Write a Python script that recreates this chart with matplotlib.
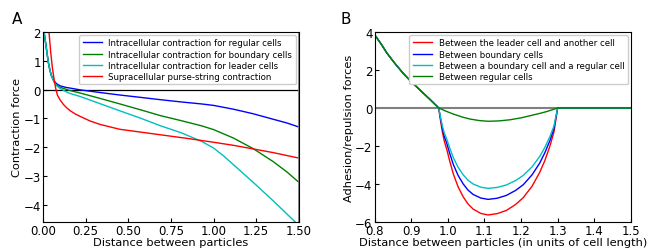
import numpy as np
import matplotlib
matplotlib.use('Agg')
import matplotlib.pyplot as plt

#==== Panel A data : contraction force vs distance ====
reg_x = [0.006, 0.012, 0.018, 0.025, 0.031, 0.04, 0.05, 0.065, 0.08, 0.1, 0.13, 0.16, 0.217,
         0.33, 0.451, 0.57, 0.685, 0.81, 0.93, 1.0, 1.115, 1.232, 1.349, 1.43, 1.5]
reg_y = [2.0, 1.75, 1.5, 1.2, 0.95, 0.68, 0.47, 0.30, 0.20, 0.13, 0.08, 0.05, -0.01,
         -0.10, -0.19, -0.27, -0.35, -0.43, -0.50, -0.55, -0.68, -0.84, -1.03, -1.16, -1.30]
bnd_x = [0.006, 0.012, 0.018, 0.025, 0.031, 0.04, 0.05, 0.065, 0.08, 0.1, 0.15, 0.217,
         0.33, 0.451, 0.57, 0.685, 0.81, 0.93, 1.0, 1.115, 1.232, 1.349, 1.43, 1.5]
bnd_y = [2.0, 1.75, 1.5, 1.2, 0.95, 0.68, 0.47, 0.27, 0.15, 0.08, -0.02, -0.12,
         -0.30, -0.50, -0.70, -0.90, -1.08, -1.26, -1.39, -1.68, -2.05, -2.50, -2.86, -3.22]
lead_x = [0.006, 0.012, 0.018, 0.025, 0.031, 0.04, 0.05, 0.065, 0.08, 0.1, 0.15, 0.217,
          0.33, 0.451, 0.57, 0.685, 0.81, 0.93, 1.0, 1.06, 1.115, 1.232, 1.349, 1.43, 1.5]
lead_y = [2.0, 1.75, 1.5, 1.2, 0.95, 0.68, 0.47, 0.26, 0.13, 0.04, -0.12, -0.24,
          -0.48, -0.74, -0.99, -1.25, -1.50, -1.80, -2.03, -2.31, -2.60, -3.22, -3.86, -4.32, -4.72]
purse_x = [0.035, 0.045, 0.055, 0.065, 0.075, 0.085, 0.1, 0.12, 0.14, 0.16, 0.19, 0.217,
           0.275, 0.334, 0.45, 0.55, 0.7, 0.85, 1.0, 1.12, 1.23, 1.35, 1.5]
purse_y = [2.0, 1.3, 0.75, 0.35, 0.02, -0.2, -0.36, -0.52, -0.64, -0.74, -0.85, -0.93,
           -1.09, -1.21, -1.38, -1.46, -1.58, -1.70, -1.83, -1.94, -2.06, -2.19, -2.38]

#==== Panel B data : adhesion/repulsion force vs distance ====
# repulsive part is the same for every pair of cells
rep_x = [0.8, 0.82, 0.833, 0.855, 0.878, 0.9, 0.924, 0.95, 0.975]
rep_y = [3.85, 3.3, 2.9, 2.35, 1.82, 1.38, 0.94, 0.47, 0.0]
adh_x = [0.975, 0.98, 0.985, 0.99, 0.997, 1.005, 1.015, 1.028, 1.042, 1.055, 1.069, 1.09,
         1.11, 1.135, 1.16, 1.185, 1.206, 1.23, 1.251, 1.265, 1.279, 1.29, 1.3, 1.5]
lead_adh = [0, -0.67, -1.26, -1.73, -2.18, -2.79, -3.48, -4.15, -4.68, -5.05, -5.32, -5.55,
            -5.63, -5.56, -5.39, -5.08, -4.72, -4.12, -3.39, -2.77, -2.00, -1.26, 0, 0]
bnd_adh = [0, -0.57, -1.08, -1.48, -1.86, -2.39, -2.98, -3.55, -4.00, -4.32, -4.55, -4.74,
           -4.81, -4.75, -4.60, -4.34, -4.04, -3.52, -2.90, -2.36, -1.71, -1.08, 0, 0]
bndreg_adh = [0, -0.50, -0.95, -1.30, -1.64, -2.10, -2.62, -3.12, -3.52, -3.80, -4.00, -4.17,
              -4.23, -4.18, -4.05, -3.82, -3.55, -3.10, -2.55, -2.08, -1.50, -0.95, 0, 0]
reg_adh_x = [0.975, 0.995, 1.015, 1.04, 1.06, 1.085, 1.11, 1.14, 1.17, 1.2, 1.224, 1.25,
             1.27, 1.3, 1.5]
reg_adh = [0, -0.17, -0.32, -0.48, -0.58, -0.66, -0.70, -0.68, -0.62, -0.52, -0.41, -0.29,
           -0.19, 0, 0]

plt.rcParams['font.family'] = 'DejaVu Sans'
fig = plt.figure(figsize=(6.64, 2.51), dpi=100)
axA = fig.add_axes([0.0648, 0.1116, 0.3852, 0.757])
axB = fig.add_axes([0.5643, 0.1116, 0.3857, 0.757])

#----- A -----
axA.axhline(0, color='k', lw=0.9)
axA.plot(reg_x, reg_y, color='b', lw=1, label='Intracellular contraction for regular cells')
axA.plot(bnd_x, bnd_y, color='g', lw=1, label='Intracellular contraction for boundary cells')
axA.plot(lead_x, lead_y, color='c', lw=1, label='Intracellular contraction for leader cells')
axA.plot(purse_x, purse_y, color='r', lw=1, label='Supracellular purse-string contraction')
axA.axvline(1.5, color='gray', lw=2)
axA.set_xlim(0, 1.5)
axA.set_ylim(-4.6, 2)
axA.set_xticks([0, 0.25, 0.5, 0.75, 1.0, 1.25, 1.5])
axA.set_xticklabels(['0.00', '0.25', '0.50', '0.75', '1.00', '1.25', '1.50'])
axA.set_yticks([-4, -3, -2, -1, 0, 1, 2])
axA.set_xlabel('Distance between particles', fontsize=8.2, labelpad=0)
axA.set_ylabel('Contraction force', fontsize=8.2, labelpad=1)
axA.legend(loc='upper right', fontsize=6.2, handlelength=2.2, borderaxespad=0.35,
           framealpha=1, labelspacing=0.25)
fig.text(0.018, 0.905, 'A', fontsize=11)

#----- B -----
axB.axhline(0, color='gray', lw=1.5)
axB.plot(rep_x + adh_x[1:], rep_y + lead_adh[1:], color='r', lw=1,
         label='Between the leader cell and another cell')
axB.plot(rep_x + adh_x[1:], rep_y + bnd_adh[1:], color='b', lw=1,
         label='Between boundary cells')
axB.plot(rep_x + adh_x[1:], rep_y + bndreg_adh[1:], color='c', lw=1,
         label='Between a boundary cell and a regular cell')
axB.plot(rep_x + reg_adh_x[1:], rep_y + reg_adh[1:], color='g', lw=1,
         label='Between regular cells')
axB.set_xlim(0.8, 1.5)
axB.set_ylim(-6, 4)
axB.set_yticks([-6, -4, -2, 0, 2, 4])
axB.set_xlabel('Distance between particles (in units of cell length)', fontsize=8.2, labelpad=0)
axB.set_ylabel('Adhesion/repulsion forces', fontsize=8.2, labelpad=1)
axB.legend(loc='upper right', fontsize=6.2, handlelength=2.2, borderaxespad=0.35,
           framealpha=1, labelspacing=0.25)
fig.text(0.513, 0.905, 'B', fontsize=11)

for ax in (axA, axB):
    ax.tick_params(direction='in', labelsize=8.5, pad=1.5, length=3)

fig.savefig('out.png', dpi=100)
